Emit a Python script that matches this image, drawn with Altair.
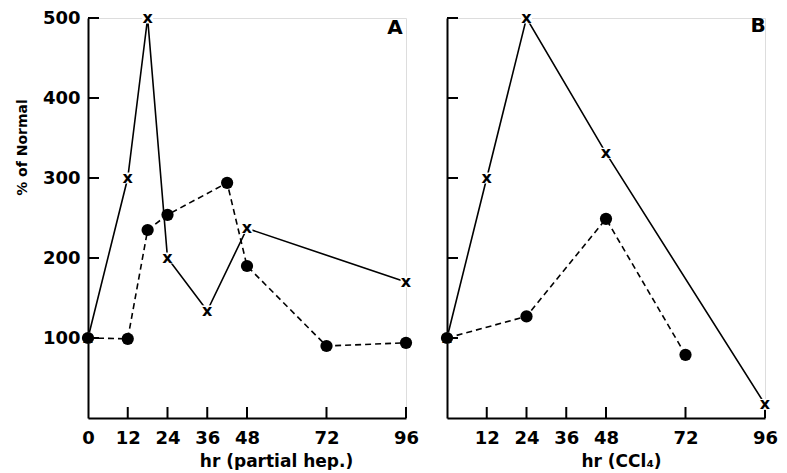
import altair as alt
import pandas as pd

# Panel A (partial hepatectomy)
a_x_hours = [0, 12, 18, 24, 36, 48, 96]
a_x_vals = [100, 300, 500, 200, 134, 237, 170]
a_dot_hours = [0, 12, 18, 24, 42, 48, 72, 96]
a_dot_vals = [100, 99, 235, 254, 294, 190, 90, 94]

# Panel B (CCl4)
b_x_hours = [0, 12, 24, 48, 96]
b_x_vals = [100, 300, 500, 331, 17]
b_dot_hours = [0, 24, 48, 72]
b_dot_vals = [100, 127, 249, 79]

x_tick_vals = [12, 24, 36, 48, 72, 96]
a_x_labels = [0, 12, 24, 36, 48, 72, 96]
b_x_labels = [12, 24, 36, 48, 72, 96]
y_tick_vals = [100, 200, 300, 400, 500]

FONT = "DejaVu Sans"
W, H = 318, 400
label_pos = {"A": (307, 10), "B": (311, 8)}


def panel(xh, xv, dh, dv, xlabels, xtitle, show_y, label, title_x):
    xs = alt.Scale(domain=[0, 96], nice=False, zero=True)
    ys = alt.Scale(domain=[0, 500], nice=False, zero=True)
    xaxis = alt.Axis(values=xlabels, ticks=False, grid=False, title=xtitle,
                     labelFont=FONT, labelFontSize=18, labelFontWeight="bold",
                     labelColor="black", labelPadding=11, labelFlush=False,
                     titleFont=FONT, titleFontSize=17, titleFontWeight="bold",
                     titleColor="black", titlePadding=6, titleX=title_x,
                     domainColor="black", domainWidth=2)
    if show_y:
        yaxis = alt.Axis(values=y_tick_vals, ticks=False, grid=False, title="% of Normal",
                         labelFont=FONT, labelFontSize=18, labelFontWeight="bold",
                         labelColor="black", labelPadding=8,
                         titleFont=FONT, titleFontSize=14, titleFontWeight="bold",
                         titleColor="black", titlePadding=13, titleY=129,
                         domainColor="black", domainWidth=2)
    else:
        yaxis = alt.Axis(values=y_tick_vals, ticks=False, grid=False, labels=False, title=None,
                         domainColor="black", domainWidth=2)

    def X():
        return alt.X("hr:Q", scale=xs, axis=xaxis)

    def Y():
        return alt.Y("val:Q", scale=ys, axis=yaxis)

    xdf = pd.DataFrame({"hr": xh, "val": xv})
    ddf = pd.DataFrame({"hr": dh, "val": dv})
    xt = pd.DataFrame({"hr": x_tick_vals})
    yt = pd.DataFrame({"val": y_tick_vals})

    solid = alt.Chart(xdf).mark_line(color="black", strokeWidth=1.6).encode(x=X(), y=Y())
    gaps = alt.Chart(xdf).mark_point(shape="square", filled=True, color="white",
                                     opacity=1, size=120).encode(x=X(), y=Y())
    xmarks = alt.Chart(xdf).mark_text(text="x", font=FONT, fontSize=16, fontWeight="bold",
                                      color="black", baseline="middle").encode(x=X(), y=Y())
    dashed = alt.Chart(ddf).mark_line(color="black", strokeWidth=1.6,
                                      strokeDash=[6, 4]).encode(x=X(), y=Y())
    dots = alt.Chart(ddf).mark_circle(color="black", opacity=1, size=150).encode(x=X(), y=Y())
    xticks = alt.Chart(xt).mark_rule(color="black", strokeWidth=2).encode(
        x=X(), y=alt.value(H), y2=alt.value(H - 11))
    yticks = alt.Chart(yt).mark_rule(color="black", strokeWidth=2).encode(
        y=Y(), x=alt.value(0), x2=alt.value(11))
    lab = alt.Chart(pd.DataFrame({"t": [label]})).mark_text(
        font=FONT, fontSize=20, fontWeight="bold", color="black", baseline="middle").encode(
        text="t:N",
        x=alt.value(label_pos[label][0]), y=alt.value(label_pos[label][1]))

    return alt.layer(xticks, yticks, solid, dashed, gaps, xmarks, dots, lab).properties(
        width=W, height=H)


pa = panel(a_x_hours, a_x_vals, a_dot_hours, a_dot_vals, a_x_labels,
           "hr (partial hep.)", True, "A", 188)
pb = panel(b_x_hours, b_x_vals, b_dot_hours, b_dot_vals, b_x_labels,
           "hr (CCl₄)", False, "B", 174)

chart = alt.hconcat(pa, pb, spacing=20).properties(
    padding={"left": 6, "top": 0, "right": 0, "bottom": 0}
).configure_view(stroke=None).configure(background="white")

chart.save("out.html", embed_options={"renderer": "svg", "actions": False})
